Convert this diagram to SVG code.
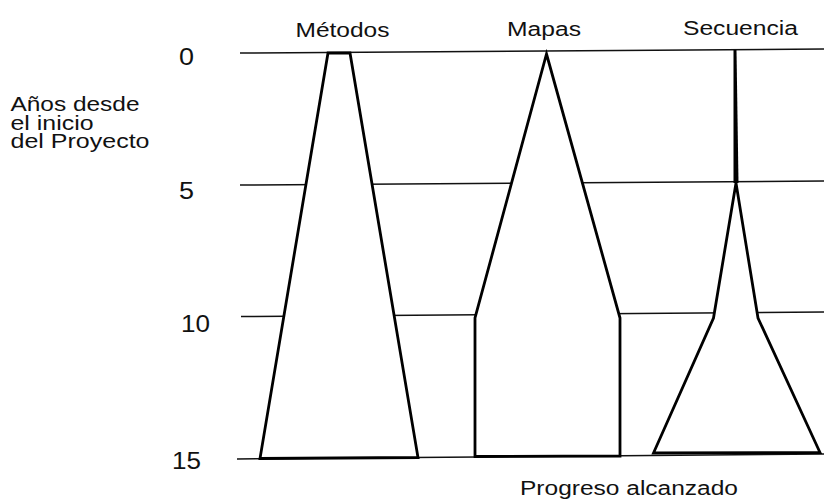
<svg xmlns="http://www.w3.org/2000/svg" width="824" height="499" viewBox="0 0 824 499">
<style>
  .lbl { font-family: "Liberation Sans", Arial, sans-serif; font-size: 20px; fill: #111; }
  .num { font-family: "Liberation Sans", Arial, sans-serif; font-size: 23px; fill: #111; }
  .grid { stroke: #111; stroke-width: 1.5; fill: none; }
  .shape { stroke: #000; stroke-width: 2.8; fill: #fff; stroke-linejoin: miter; }
</style>
<rect width="824" height="499" fill="#fff"/>
<g id="grid">
  <line class="grid" x1="240" y1="53" x2="824" y2="49"/>
  <line class="grid" x1="240" y1="185" x2="824" y2="181"/>
  <line class="grid" x1="241" y1="316.5" x2="824" y2="312"/>
  <line class="grid" x1="237" y1="459" x2="824" y2="454"/>
</g>
<g id="axis-labels">
  <text class="num" x="179" y="65" textLength="15" lengthAdjust="spacingAndGlyphs">0</text>
  <text class="num" x="179" y="199" textLength="15" lengthAdjust="spacingAndGlyphs">5</text>
  <text class="num" x="181" y="332" textLength="29" lengthAdjust="spacingAndGlyphs">10</text>
  <text class="num" x="172" y="469" textLength="29" lengthAdjust="spacingAndGlyphs">15</text>
  <text class="lbl" x="10.5" y="111" textLength="129" lengthAdjust="spacingAndGlyphs">Años desde</text>
  <text class="lbl" x="10.5" y="129.5" textLength="83" lengthAdjust="spacingAndGlyphs">el inicio</text>
  <text class="lbl" x="10.5" y="148" textLength="139" lengthAdjust="spacingAndGlyphs">del Proyecto</text>
  <text class="lbl" x="520" y="494.5" textLength="218" lengthAdjust="spacingAndGlyphs">Progreso alcanzado</text>
</g>
<g id="metodos">
  <polygon class="shape" points="328,53 350,53 418,457.5 260,458.5"/>
  <text class="lbl" x="295.5" y="37" textLength="94" lengthAdjust="spacingAndGlyphs">Métodos</text>
</g>
<g id="mapas">
  <polygon class="shape" points="546.5,54 620,318 620,456 475,456.5 475,318"/>
  <text class="lbl" x="507" y="35.5" textLength="74" lengthAdjust="spacingAndGlyphs">Mapas</text>
</g>
<g id="secuencia">
  <polygon class="shape" points="736,183 758,318 820,452.5 653.5,453 713.5,318"/>
  <polygon points="733.5,50 736.5,50 738.5,183 733.5,183" fill="#000"/>
  <text class="lbl" x="683" y="34.5" textLength="115" lengthAdjust="spacingAndGlyphs">Secuencia</text>
</g>
</svg>
